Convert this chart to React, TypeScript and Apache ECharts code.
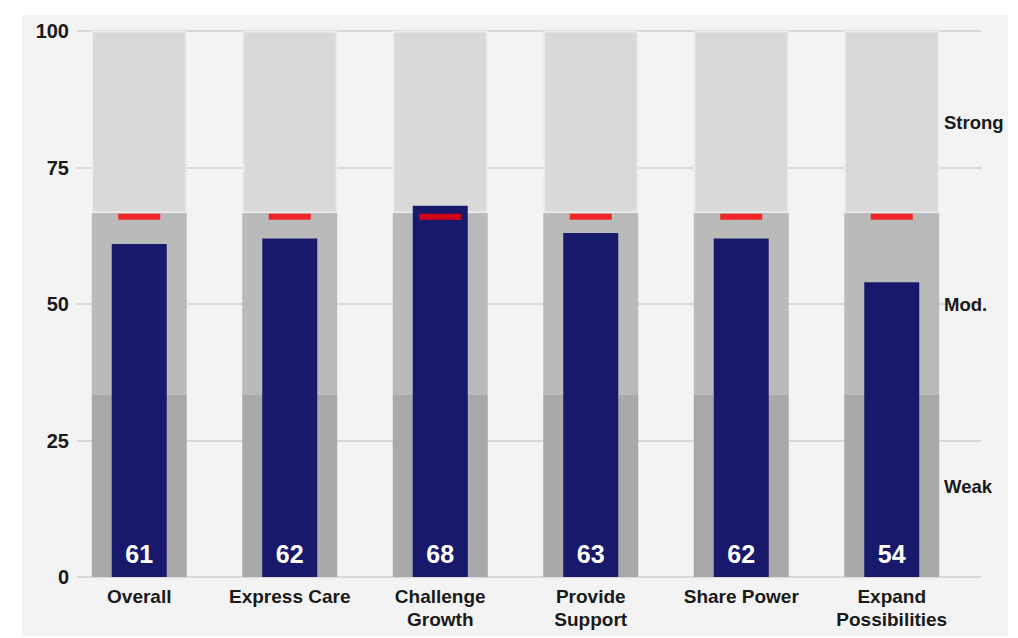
import React, { useEffect, useRef } from "react";
import * as echarts from "echarts";

// Dimension names shown under each bar
const categories = [
  "Overall",
  "Express Care",
  "Challenge\nGrowth",
  "Provide\nSupport",
  "Share Power",
  "Expand\nPossibilities",
];

// Scores for each dimension
const scores = [61, 62, 68, 63, 62, 54];

// Benchmark marker for each dimension
const targets = [66, 66, 66, 66, 66, 66];

// Upper edges of the qualitative ranges (Weak, Mod., Strong)
const rangeNames = ["Weak", "Mod.", "Strong"];
const rangeEdges = [100 / 3, 200 / 3, 100];
const rangeColors = ["#a9a9a9", "#bababa", "#d9d9d9"];

const yTicks = { min: 0, max: 100, interval: 25 };

const FONT = "'Liberation Sans', Arial, sans-serif";
const TEXT = "#1a1a1a";

export default function App() {
  const ref = useRef<HTMLDivElement>(null);

  useEffect(() => {
    if (!ref.current) return;
    const chart = echarts.init(ref.current, null, { renderer: "svg" });

    const rangeSeries = rangeEdges.map((edge, i) => {
      const size = edge - (i === 0 ? 0 : rangeEdges[i - 1]);
      return {
        name: rangeNames[i],
        type: "bar",
        xAxisIndex: 1,
        yAxisIndex: 2,
        stack: "range",
        barWidth: 95,
        silent: true,
        itemStyle: {
          color: rangeColors[i],
          borderColor: i === rangeEdges.length - 1 ? "#eeeeee" : undefined,
          borderWidth: i === rangeEdges.length - 1 ? 1.5 : 0,
        },
        data: categories.map(() => size),
        z: 2,
      };
    });

    chart.setOption({
      animation: false,
      grid: [
        { left: 77, right: 36, top: 31, bottom: 61 },
        { left: 64, right: 51, top: 31, bottom: 61 },
      ],
      xAxis: [
        { gridIndex: 0, type: "value", min: 0, max: 1, show: false },
        {
          gridIndex: 1,
          type: "category",
          data: categories,
          axisLine: { show: false },
          axisTick: { show: false },
          axisLabel: {
            margin: 8,
            color: TEXT,
            fontFamily: FONT,
            fontWeight: "bold",
            fontSize: 19,
            lineHeight: 23,
            interval: 0,
          },
        },
        { gridIndex: 1, type: "category", data: categories, show: false },
      ],
      yAxis: [
        {
          gridIndex: 0,
          type: "value",
          ...yTicks,
          axisLine: { show: false },
          axisTick: { show: false },
          splitLine: { lineStyle: { color: "#d9d9d9", width: 2 } },
          axisLabel: {
            margin: 8,
            color: TEXT,
            fontFamily: FONT,
            fontWeight: "bold",
            fontSize: 20,
          },
        },
        {
          gridIndex: 0,
          type: "category",
          position: "right",
          offset: -39,
          data: rangeNames,
          axisLine: { show: false },
          axisTick: { show: false },
          splitLine: { show: false },
          axisLabel: {
            margin: 1,
            align: "left",
            color: TEXT,
            fontFamily: FONT,
            fontWeight: "bold",
            fontSize: 18.5,
          },
        },
        { gridIndex: 1, type: "value", ...yTicks, show: false },
      ],
      series: [
        ...rangeSeries,
        {
          name: "Score",
          type: "bar",
          xAxisIndex: 2,
          yAxisIndex: 2,
          barWidth: 55,
          itemStyle: { color: "#19196b" },
          label: {
            show: true,
            position: "insideBottom",
            distance: 11,
            color: "#ffffff",
            fontFamily: FONT,
            fontWeight: "bold",
            fontSize: 25,
          },
          data: scores,
          z: 3,
        },
        {
          name: "Target",
          type: "scatter",
          xAxisIndex: 2,
          yAxisIndex: 2,
          symbol: "rect",
          symbolSize: [42, 6],
          itemStyle: { color: "#ff0000" },
          data: targets,
          z: 5,
        },
      ],
    });

    return () => chart.dispose();
  }, []);

  return (
    <div
      style={{
        position: "fixed",
        left: 0,
        top: 0,
        width: 1018,
        height: 638,
        background: "#ffffff",
      }}
    >
      <div
        style={{
          position: "absolute",
          left: 22,
          top: 15,
          width: 986,
          height: 621,
          background: "#f3f3f3",
        }}
      />
      <div
        ref={ref}
        style={{ position: "absolute", left: 0, top: 0, width: 1018, height: 638 }}
      />
    </div>
  );
}
